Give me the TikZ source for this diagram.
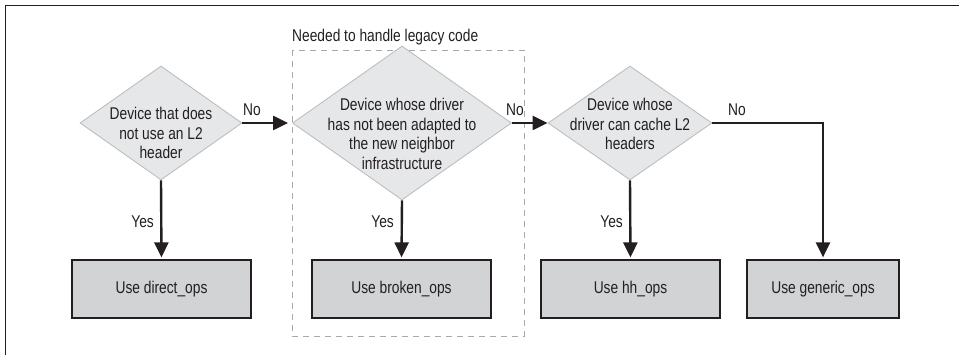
\documentclass[tikz,border=0pt]{standalone}
\usepackage{fontspec}
\setmainfont[FakeStretch=0.81]{Liberation Sans}
\usetikzlibrary{shapes.geometric,arrows.meta}
\definecolor{dfill}{HTML}{E6E7E8}
\definecolor{ddraw}{HTML}{BCBEC0}
\definecolor{bfill}{HTML}{D1D3D4}
\definecolor{ink}{HTML}{231F20}
\definecolor{grpgray}{HTML}{A7A9AC}
\begin{document}
\begin{tikzpicture}[x=1pt,y=-1pt,
  every node/.style={font=\fontsize{17}{19.5}\selectfont, text=ink},
  dia/.style={diamond, draw=ddraw, fill=dfill, line width=0.9pt, inner sep=0pt, aspect=1},
  lbl/.style={align=center, inner sep=0pt},
  opbox/.style={rectangle, draw=ink, fill=bfill, line width=1.2pt, minimum height=58pt, inner sep=0pt},
  flow/.style={line width=2.4pt, draw=ink, -{Triangle[length=15pt,width=14pt]}, shorten >=2pt},
  word/.style={inner sep=0pt}]
\useasboundingbox (0,0) rectangle (959,355);
% frame
\draw[ink, line width=1.4pt] (5.5,355) -- (5.5,5.5) -- (959,5.5);
% dashed group
\draw[grpgray, line width=0.9pt, dash pattern=on 6pt off 5pt] (292,50) rectangle (524,336);
\node[word, anchor=base west] (grp) at (292,42) {Needed to handle legacy code};
% diamonds
\node[dia, minimum width=162pt, minimum height=114pt] (d1) at (161,123) {};
\node[dia, minimum width=219pt, minimum height=154pt] (d2) at (402,123) {};
\node[dia, minimum width=164pt, minimum height=114pt] (d3) at (630,123) {};
\node[lbl] (t1) at (161,133) {Device that does\\not use an L2\\header};
\node[lbl] (t2) at (402,134) {Device whose driver\\has not been adapted to\\the new neighbor\\infrastructure};
\node[lbl] (t3) at (630,124) {Device whose\\driver can cache L2\\headers};
% boxes
\node[opbox, minimum width=179pt] (b1) at (161.5,289) {Use direct\_ops};
\node[opbox, minimum width=179pt] (b2) at (401.5,289) {Use broken\_ops};
\node[opbox, minimum width=179pt] (b3) at (630.5,289) {Use hh\_ops};
\node[opbox, minimum width=152pt] (b4) at (823,289) {Use generic\_ops};
\coordinate (corner) at (823,123);
% arrows
\draw[flow, shorten >=4pt] (d1.east) -- (d2.west);
\draw[flow, shorten >=0pt] (d2.east) -- (d3.west);
\draw[flow] (d1.south) -- (b1.north);
\draw[flow] (d2.south) -- (b2.north);
\draw[flow] (d3.south) -- (b3.north);
\draw[flow] (d3.east) -- (corner) -- (b4.north);
% labels
\node[word, anchor=base west] (n1) at (243,116) {No};
\node[word, anchor=base west] (n2) at (506,116) {No};
\node[word, anchor=base west] (n3) at (728,116) {No};
\node[word, anchor=base east] (y1) at (154,228) {Yes};
\node[word, anchor=base east] (y2) at (394,228) {Yes};
\node[word, anchor=base east] (y3) at (623,228) {Yes};
\end{tikzpicture}
\end{document}
